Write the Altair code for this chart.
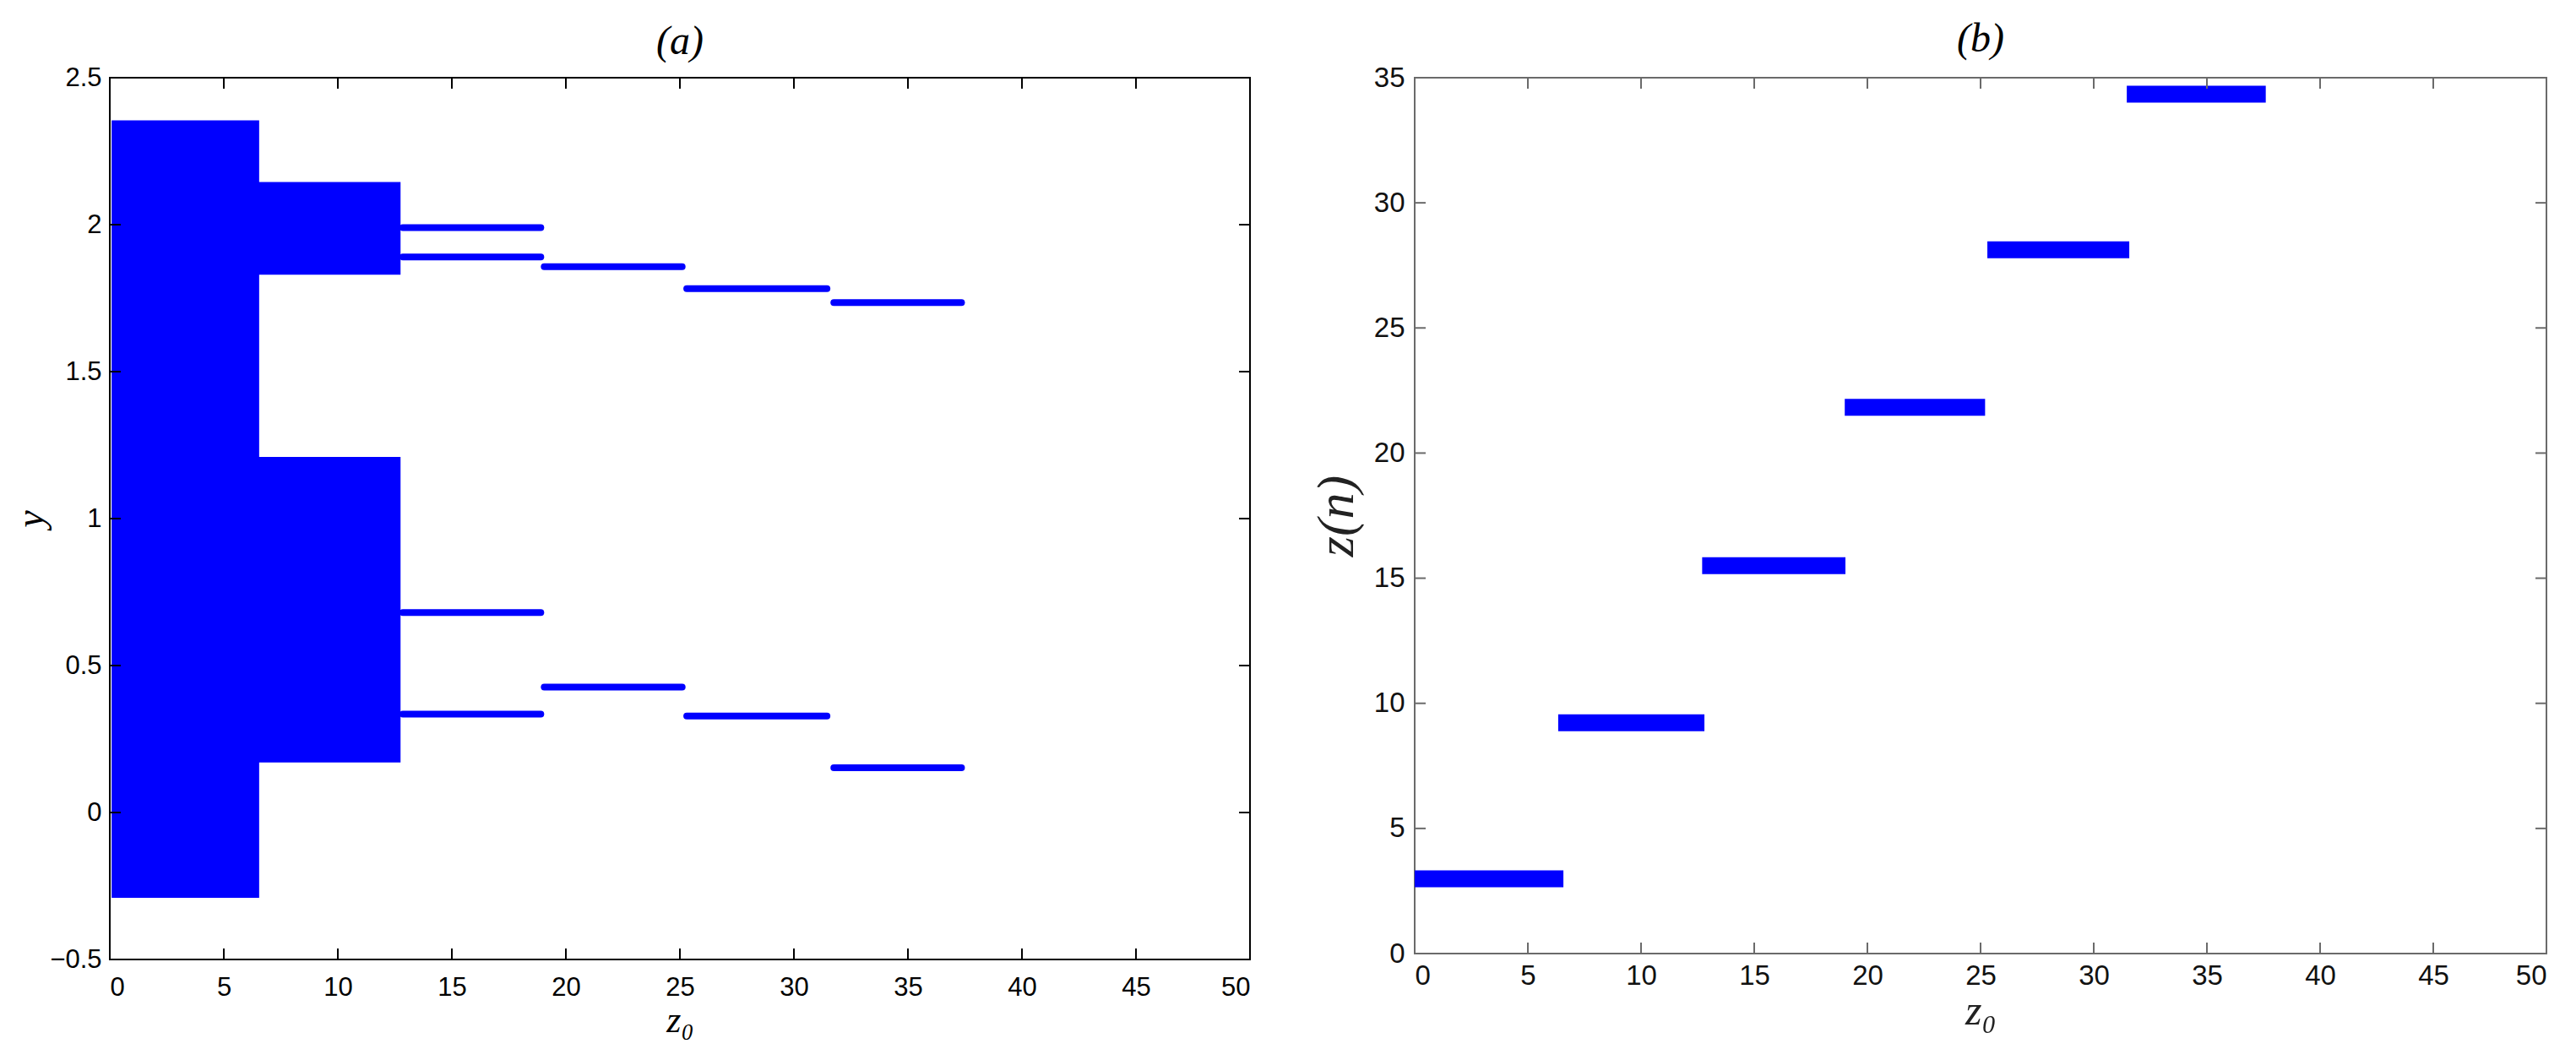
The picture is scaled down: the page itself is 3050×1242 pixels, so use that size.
import altair as alt
import pandas as pd

# ---------------- data: panel (a) ----------------
# dense chaotic clouds (drawn as filled regions): x-range and y-range
CLOUD_X0 = [0.08, 0.08, 6.5, 6.5]
CLOUD_X1 = [6.55, 6.55, 12.75, 12.75]
CLOUD_Y0 = [1.44, -0.29, 1.83, 0.17]
CLOUD_Y1 = [2.355, 1.44, 2.145, 1.21]

# regular orbits: horizontal segments
LINE_X0 = [12.85, 12.85, 12.85, 12.85, 19.05, 19.05, 25.3, 25.3, 31.75, 31.75]
LINE_X1 = [18.9, 18.9, 18.9, 18.9, 25.1, 25.1, 31.45, 31.45, 37.35, 37.35]
LINE_Y = [1.99, 1.89, 0.68, 0.335, 1.857, 0.427, 1.782, 0.328, 1.735, 0.152]

XTICKS = [0, 5, 10, 15, 20, 25, 30, 35, 40, 45, 50]
YTICKS_A = [-0.5, 0, 0.5, 1, 1.5, 2, 2.5]

# ---------------- data: panel (b) ----------------
BAND_X0 = [0.0, 6.34, 12.7, 19.0, 25.3, 31.46]
BAND_X1 = [6.57, 12.8, 19.03, 25.2, 31.57, 37.6]
BAND_Y = [2.99, 9.22, 15.5, 21.83, 28.12, 34.34]
YTICKS_B = [0, 5, 10, 15, 20, 25, 30, 35]

BLUE = "#0000ff"
W_A, H_A = 1350, 1044
W_B, H_B = 1340, 1037
TICK = 13

clouds = pd.DataFrame({"x": CLOUD_X0, "x2": CLOUD_X1, "y": CLOUD_Y0, "y2": CLOUD_Y1})
lines = pd.DataFrame({"x": LINE_X0, "x2": LINE_X1, "y": LINE_Y})
bands = pd.DataFrame({"x": BAND_X0, "x2": BAND_X1, "y": BAND_Y})
xt = pd.DataFrame({"x": XTICKS})
yta = pd.DataFrame({"y": YTICKS_A})
ytb = pd.DataFrame({"y": YTICKS_B})

SANS = "Liberation Sans"
SERIF = "Liberation Serif"

# ---------------- panel (a) ----------------
xs_a = alt.Scale(domain=[0, 50], nice=False, zero=False)
ys_a = alt.Scale(domain=[-0.5, 2.5], nice=False, zero=False)
xax_a = alt.Axis(values=XTICKS, format="d", domain=False, ticks=False, grid=False,
                 labelFont=SANS, labelFontSize=31, labelColor="#000", labelPadding=18,
                 title="z₀", titleFont=SERIF, titleFontStyle="italic", titleFontWeight="normal",
                 titleFontSize=44, titleColor="#000", titlePadding=2)
yax_a = alt.Axis(values=YTICKS_A, format="~g", domain=False, ticks=False, grid=False,
                 labelFont=SANS, labelFontSize=31, labelColor="#000", labelPadding=10,
                 title="y", titleFont=SERIF, titleFontStyle="italic", titleFontWeight="normal",
                 titleFontSize=46, titleColor="#000", titlePadding=-2)

XA = lambda: alt.X("x:Q", scale=xs_a, axis=xax_a)
YA = lambda: alt.Y("y:Q", scale=ys_a, axis=yax_a)

a_clouds = alt.Chart(clouds).mark_rect(color=BLUE).encode(
    x=XA(), x2="x2:Q", y=YA(), y2="y2:Q")
a_lines = alt.Chart(lines).mark_rule(color=BLUE, strokeWidth=8, strokeCap="round").encode(
    x=XA(), x2="x2:Q", y=YA())
a_tb = alt.Chart(xt).mark_rule(color="#000", strokeWidth=2).encode(
    x=XA(), y=alt.value(H_A), y2=alt.value(H_A - TICK))
a_tt = alt.Chart(xt).mark_rule(color="#000", strokeWidth=2).encode(
    x=XA(), y=alt.value(0), y2=alt.value(TICK))
a_tl = alt.Chart(yta).mark_rule(color="#000", strokeWidth=2).encode(
    y=YA(), x=alt.value(0), x2=alt.value(TICK))
a_tr = alt.Chart(yta).mark_rule(color="#000", strokeWidth=2).encode(
    y=YA(), x=alt.value(W_A), x2=alt.value(W_A - TICK))

panel_a = alt.layer(a_clouds, a_lines, a_tb, a_tt, a_tl, a_tr).properties(
    width=W_A, height=H_A,
    title=alt.TitleParams("(a)", font=SERIF, fontStyle="italic", fontWeight="normal",
                          fontSize=48, color="#000", offset=2),
    view=alt.ViewBackground(stroke="#000", strokeWidth=2),
)

# ---------------- panel (b) ----------------
GRAY = "#6a6a6a"
xs_b = alt.Scale(domain=[0, 50], nice=False, zero=False)
ys_b = alt.Scale(domain=[0, 35], nice=False, zero=False)
xax_b = alt.Axis(values=XTICKS, format="d", domain=False, ticks=False, grid=False,
                 labelFont=SANS, labelFontSize=33, labelColor="#111", labelPadding=10,
                 title="z₀", titleFont=SERIF, titleFontStyle="italic", titleFontWeight="normal",
                 titleFontSize=50, titleColor="#222", titlePadding=0)
yax_b = alt.Axis(values=YTICKS_B, format="d", domain=False, ticks=False, grid=False,
                 labelFont=SANS, labelFontSize=33, labelColor="#111", labelPadding=12,
                 title="z(n)", titleFont=SERIF, titleFontStyle="italic", titleFontWeight="normal",
                 titleFontSize=62, titleColor="#222", titlePadding=12)

XB = lambda: alt.X("x:Q", scale=xs_b, axis=xax_b)
YB = lambda: alt.Y("y:Q", scale=ys_b, axis=yax_b)

b_bands = alt.Chart(bands).mark_rule(color=BLUE, strokeWidth=20, strokeCap="butt").encode(
    x=XB(), x2="x2:Q", y=YB())
b_tb = alt.Chart(xt).mark_rule(color=GRAY, strokeWidth=2).encode(
    x=XB(), y=alt.value(H_B), y2=alt.value(H_B - TICK))
b_tt = alt.Chart(xt).mark_rule(color=GRAY, strokeWidth=2).encode(
    x=XB(), y=alt.value(0), y2=alt.value(TICK))
b_tl = alt.Chart(ytb).mark_rule(color=GRAY, strokeWidth=2).encode(
    y=YB(), x=alt.value(0), x2=alt.value(TICK))
b_tr = alt.Chart(ytb).mark_rule(color=GRAY, strokeWidth=2).encode(
    y=YB(), x=alt.value(W_B), x2=alt.value(W_B - TICK))

panel_b = alt.layer(b_bands, b_tb, b_tt, b_tl, b_tr).properties(
    width=W_B, height=H_B,
    title=alt.TitleParams("(b)", font=SERIF, fontStyle="italic", fontWeight="normal",
                          fontSize=48, color="#000", offset=5),
    view=alt.ViewBackground(stroke=GRAY, strokeWidth=2),
)

chart = alt.hconcat(panel_a, panel_b, spacing=68).properties(
    padding={"left": 4, "top": 14, "right": 5, "bottom": 0}
).configure(background="white")

chart.save("out.html", embed_options={"renderer": "svg", "actions": False})
